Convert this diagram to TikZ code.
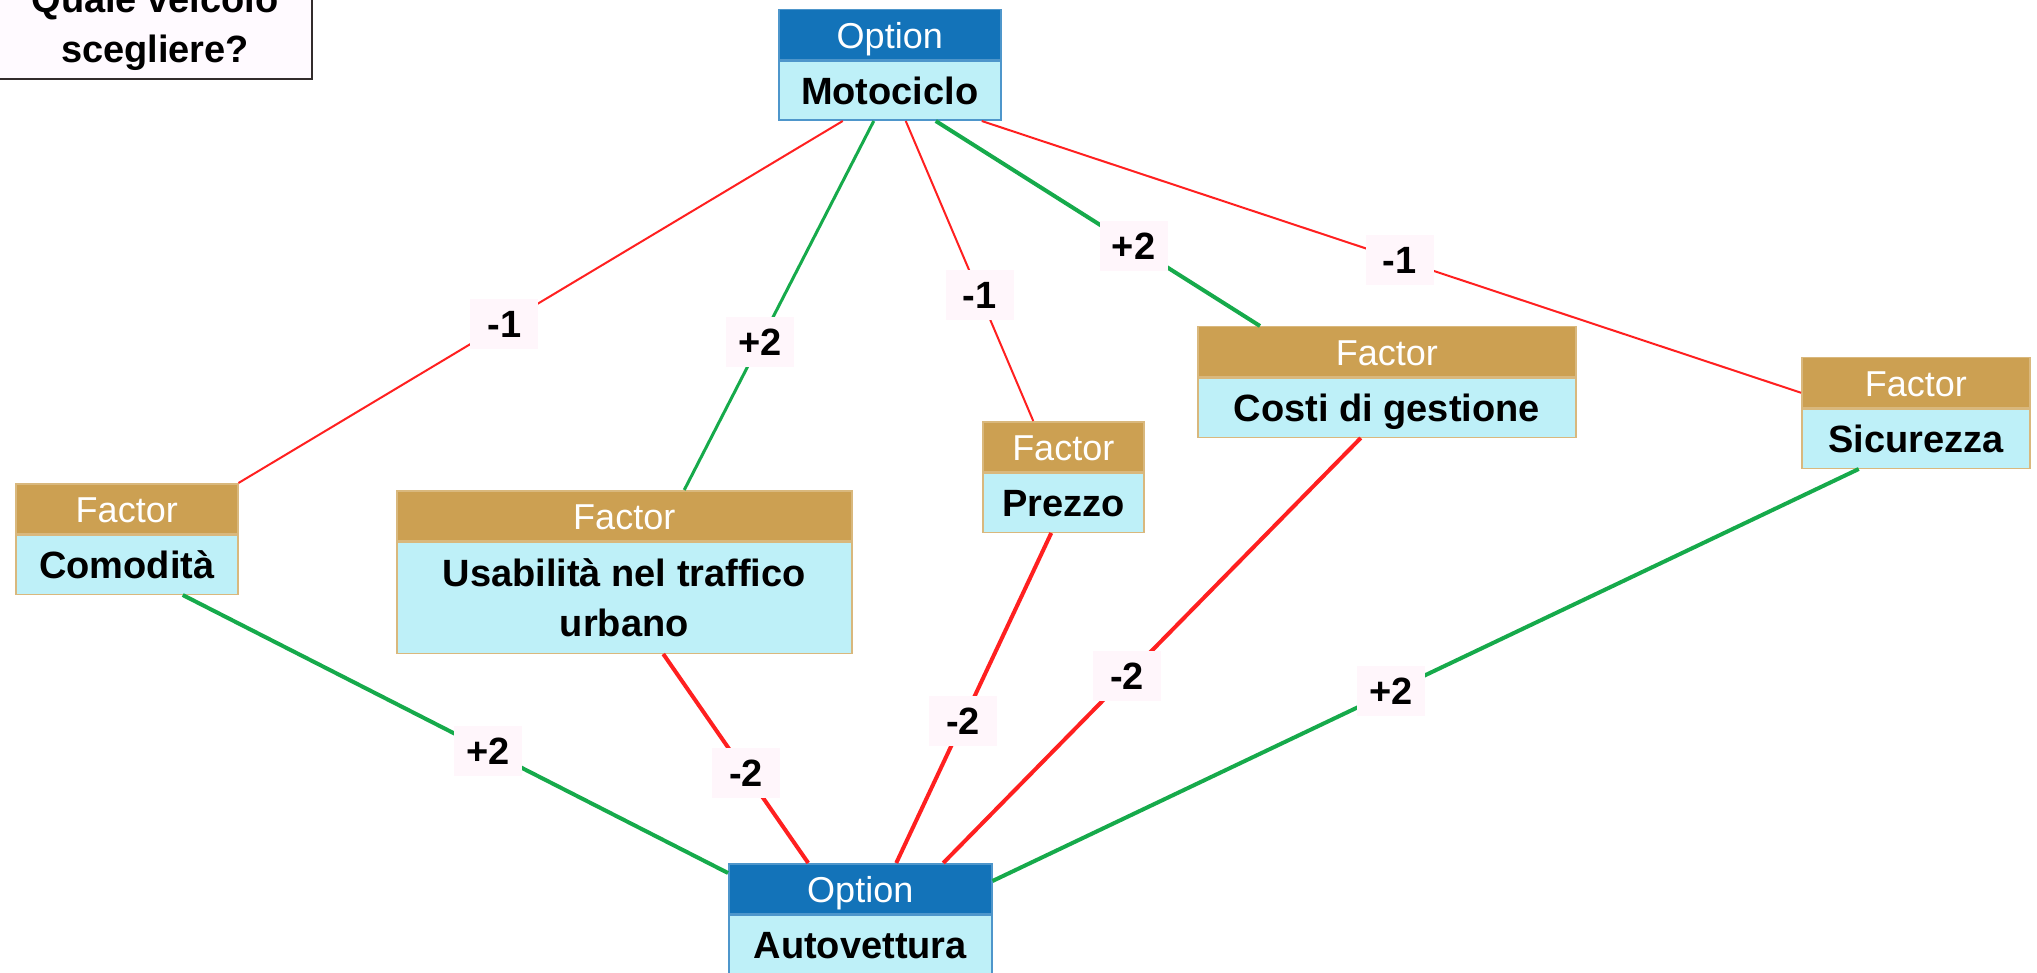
\documentclass[tikz,border=0pt]{standalone}
\usepackage{fontspec}
\setmainfont{Liberation Sans}
\usepackage{tikz}
\usetikzlibrary{positioning, calc}
\definecolor{optblue}{RGB}{19,115,185}
\definecolor{factan}{RGB}{204,160,82}
\definecolor{cardcyan}{RGB}{190,240,248}
\definecolor{posgreen}{RGB}{22,170,75}
\definecolor{negred}{RGB}{255,32,32}
\definecolor{tagpink}{RGB}{255,246,251}
\definecolor{titlepink}{RGB}{255,250,255}
\definecolor{titleedge}{RGB}{50,44,44}
\newcommand{\cardhead}{\fontsize{36}{40}\selectfont}
\newcommand{\cardtext}{\bfseries\fontsize{38}{50}\selectfont}

\begin{document}
\begin{tikzpicture}[x=1pt, y=-1pt,
    cardhead/.style={fill=#1, draw=#1!75!white, line width=1.5pt, text=white, font=\cardhead,
        minimum height=50pt, inner sep=0pt, text height=30pt, text depth=2pt, anchor=north west},
    cardbody/.style={fill=cardcyan, draw=#1!75!white, line width=1.5pt, font=\cardtext,
        minimum height=59pt, inner sep=0pt, text height=31pt, text depth=4pt, align=center},
    weight/.style={fill=tagpink, font=\cardtext, minimum width=68pt, minimum height=50pt,
        inner sep=0pt, text height=30pt, text depth=3pt},
    minusline/.style={draw=negred, line width=#1}, minusline/.default=4pt,
    plusline/.style={draw=posgreen, line width=#1}, plusline/.default=4pt,
    titlebox/.style={draw=titleedge, fill=titlepink, line width=2pt, font=\cardtext,
        align=center, minimum width=314pt, inner ysep=8pt}]
    \useasboundingbox (0,0) rectangle (2037,973);
    % question
    \node[titlebox, anchor=south east] (title) at (313,80) {Quale veicolo\\scegliere?};
    % options
    \node[cardhead=optblue, minimum width=222pt] (moto-h) at (778,9) {Option};
    \node[cardbody=optblue, minimum width=222pt, below=0pt of moto-h] (moto) {Motociclo};
    \node[cardhead=optblue, minimum width=263pt] (auto-h) at (728,863) {Option};
    \node[cardbody=optblue, minimum width=263pt, below=0pt of auto-h] (auto) {Autovettura};
    % factors
    \node[cardhead=factan, minimum width=222pt] (com-h) at (15,483) {Factor};
    \node[cardbody=factan, minimum width=222pt, below=0pt of com-h] (com) {Comodità};
    \node[cardhead=factan, minimum width=455pt] (usab-h) at (396,490) {Factor};
    \node[cardbody=factan, minimum width=455pt, minimum height=111pt, text height=, text depth=,
        below=0pt of usab-h] (usab) {Usabilità nel traffico\\urbano};
    \node[cardhead=factan, minimum width=161pt] (prezzo-h) at (982,421) {Factor};
    \node[cardbody=factan, minimum width=161pt, below=0pt of prezzo-h] (prezzo) {Prezzo};
    \node[cardhead=factan, minimum width=378pt] (costi-h) at (1197,326) {Factor};
    \node[cardbody=factan, minimum width=378pt, below=0pt of costi-h] (costi) {Costi di gestione};
    \node[cardhead=factan, minimum width=228pt] (sic-h) at (1801,357) {Factor};
    \node[cardbody=factan, minimum width=228pt, below=0pt of sic-h] (sic) {Sicurezza};
    % Motociclo
    \draw[minusline=2pt]($(moto.south)+(-47,0)$)--node[weight, pos=.56]{-1}(com-h.north east);
    \draw[plusline=3pt]($(moto.south)+(-16,0)$)--node[weight, pos=.6]{+2}($(usab-h.north)+(60,0)$);
    \draw[minusline=2pt]($(moto.south)+(16,0)$)--node[weight, pos=.58]{-1}($(prezzo-h.north)+(-30,0)$);
    \draw[plusline]($(moto.south)+(46,0)$)--node[weight, pos=.61]{+2}($(costi-h.north west)+(63,0)$);
    \draw[minusline=2pt]($(moto.south)+(92,0)$)--node[weight, pos=.51]{-1}($(sic-h.west)+(0,10)$);
    % Autovettura
    \draw[plusline]($(com.south)+(56,0)$)--node[weight, pos=.56]{+2}($(auto-h.north west)+(0,10)$);
    \draw[minusline]($(usab.south)+(39,0)$)--node[weight, pos=.57]{-2}($(auto-h.north)+(-52,0)$);
    \draw[minusline]($(prezzo.south)+(-12,0)$)--node[weight, pos=.57]{-2}($(auto-h.north)+(36,0)$);
    \draw[minusline]($(costi.south)+(-26,0)$)--node[weight, pos=.56]{-2}($(auto-h.north)+(83,0)$);
    \draw[plusline]($(sic.south)+(-57,0)$)--node[weight, pos=.54]{+2}($(auto-h.north east)+(0,18)$);
\end{tikzpicture}
\end{document}
